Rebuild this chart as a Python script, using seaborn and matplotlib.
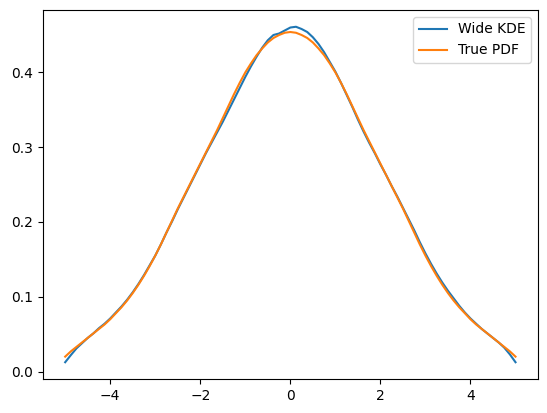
import numpy as np
import pandas as pd
import matplotlib
matplotlib.use("Agg")
import matplotlib.pyplot as plt
import seaborn as sns

# x grid from -5 to 5 in steps of 0.125 (81 points)
x_vals = np.linspace(-5.0, 5.0, 81)

wide_kde = [
    0.0125, 0.022, 0.031, 0.038, 0.045, 0.051, 0.058, 0.064,   # -5.000 .. -4.125
    0.071, 0.079, 0.087, 0.096, 0.106, 0.117, 0.129, 0.142,     # -4.000 .. -3.125
    0.155, 0.170, 0.186, 0.201, 0.217, 0.232, 0.247, 0.262,     # -3.000 .. -2.125
    0.277, 0.292, 0.306, 0.320, 0.334, 0.349, 0.364, 0.379,     # -2.000 .. -1.125
    0.394, 0.408, 0.421, 0.433, 0.443, 0.450, 0.452, 0.456,     # -1.000 .. -0.125
    0.460,                                                      #  0.000
    0.461, 0.458, 0.454, 0.447, 0.438, 0.427, 0.414, 0.401,     #  0.125 .. 1.000
    0.386, 0.370, 0.354, 0.337, 0.321, 0.306, 0.292, 0.277,     #  1.125 .. 2.000
    0.263, 0.248, 0.234, 0.219, 0.204, 0.189, 0.173, 0.158,     #  2.125 .. 3.000
    0.144, 0.131, 0.119, 0.108, 0.098, 0.088, 0.079, 0.071,     #  3.125 .. 4.000
    0.064, 0.057, 0.051, 0.045, 0.039, 0.032, 0.023, 0.0125,    #  4.125 .. 5.000
]

true_pdf = [
    0.020, 0.027, 0.033, 0.039, 0.045, 0.051, 0.057, 0.063,     # -5.000 .. -4.125
    0.070, 0.078, 0.086, 0.095, 0.105, 0.116, 0.128, 0.141,     # -4.000 .. -3.125
    0.155, 0.170, 0.186, 0.202, 0.218, 0.233, 0.248, 0.263,     # -3.000 .. -2.125
    0.278, 0.293, 0.308, 0.323, 0.339, 0.355, 0.371, 0.386,     # -2.000 .. -1.125
    0.400, 0.412, 0.423, 0.432, 0.440, 0.446, 0.450, 0.453,     # -1.000 .. -0.125
    0.454,                                                      #  0.000
    0.453, 0.450, 0.446, 0.440, 0.432, 0.423, 0.412, 0.400,     #  0.125 .. 1.000
    0.386, 0.371, 0.355, 0.339, 0.323, 0.308, 0.293, 0.278,     #  1.125 .. 2.000
    0.263, 0.248, 0.233, 0.218, 0.202, 0.186, 0.170, 0.155,     #  2.125 .. 3.000
    0.141, 0.128, 0.116, 0.105, 0.095, 0.086, 0.078, 0.070,     #  3.125 .. 4.000
    0.063, 0.057, 0.051, 0.045, 0.039, 0.033, 0.027, 0.020,     #  4.125 .. 5.000
]

series_names = ["Wide KDE", "True PDF"]
colors = ["#1f77b4", "#ff7f0e"]

fig = plt.figure(figsize=(5.47, 4.13), dpi=100)
ax = fig.add_axes([0.078, 0.0823, 0.9056, 0.8935])

for name, ys, c in zip(series_names, [wide_kde, true_pdf], colors):
    df = pd.DataFrame({"x": x_vals, "y": ys})
    sns.lineplot(data=df, x="x", y="y", ax=ax, color=c, label=name, linewidth=1.5)

ax.set_xlabel("")
ax.set_ylabel("")
ax.set_xticks([-4, -2, 0, 2, 4])
ax.set_yticks([0.0, 0.1, 0.2, 0.3, 0.4])
ax.legend(loc="upper right")

fig.savefig("out.png", dpi=100)
